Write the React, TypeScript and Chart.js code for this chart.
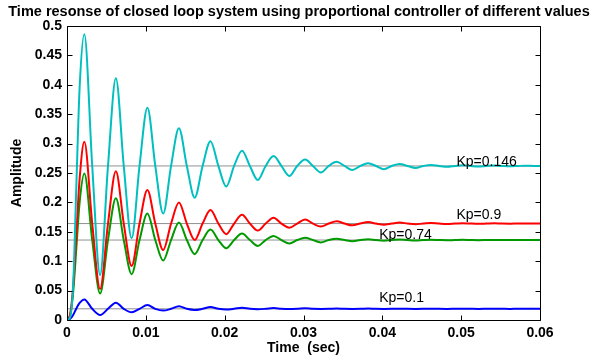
import React, { useEffect, useRef } from 'react';
import { Chart, registerables } from 'chart.js';

Chart.register(...registerables);

const TITLE = 'Time resonse of closed loop system using proportional controller of different values';
const X_TITLE = 'Time  (sec)';
const Y_TITLE = 'Amplitude';

const TIME = [
  0, 0.0004, 0.0008, 0.0012, 0.0016, 0.0022,
  0.0032, 0.0042, 0.0052, 0.0062, 0.0072, 0.0082, 0.0092, 0.0102, 0.0112, 0.0122,
  0.0132, 0.0142, 0.0152, 0.0162, 0.0172, 0.0182, 0.0192, 0.0202, 0.0212, 0.0222,
  0.0232, 0.0242, 0.0252, 0.0262, 0.0272, 0.0282, 0.0292, 0.0302, 0.0312, 0.0322,
  0.0332, 0.0342, 0.0352, 0.0362, 0.0372, 0.0382, 0.0392, 0.0402, 0.0412, 0.0422,
  0.0432, 0.0442, 0.0452, 0.0462, 0.0472, 0.0482, 0.0492, 0.0502, 0.0512, 0.0522,
  0.0532, 0.0542, 0.0552, 0.0562, 0.0572, 0.0582, 0.0592, 0.06,
];

const KP_0146 = [
  0, 0.005, 0.065, 0.235, 0.395, 0.486,
  0.262, 0.0765, 0.262, 0.411, 0.262, 0.139, 0.262, 0.361, 0.262, 0.181,
  0.262, 0.326, 0.262, 0.208, 0.262, 0.304, 0.262, 0.227, 0.262, 0.288,
  0.262, 0.238, 0.262, 0.279, 0.262, 0.245, 0.262, 0.273, 0.262, 0.251,
  0.262, 0.269, 0.262, 0.255, 0.262, 0.2665, 0.262, 0.2565, 0.262, 0.2652,
  0.262, 0.2585, 0.262, 0.2638, 0.262, 0.2605, 0.262, 0.2632, 0.262, 0.261,
  0.262, 0.2627, 0.262, 0.2614, 0.262, 0.2624, 0.262, 0.262,
];

const KP_09 = [
  0, 0.01, 0.06, 0.15, 0.24, 0.303,
  0.164, 0.0527, 0.164, 0.253, 0.164, 0.092, 0.164, 0.221, 0.164, 0.119,
  0.164, 0.2, 0.164, 0.136, 0.164, 0.187, 0.164, 0.146, 0.164, 0.179,
  0.164, 0.152, 0.164, 0.174, 0.164, 0.157, 0.164, 0.171, 0.164, 0.159,
  0.164, 0.168, 0.164, 0.161, 0.164, 0.1665, 0.164, 0.162, 0.164, 0.1657,
  0.164, 0.1628, 0.164, 0.165, 0.164, 0.1633, 0.164, 0.1647, 0.164, 0.1636,
  0.164, 0.1645, 0.164, 0.1638, 0.164, 0.1642, 0.164, 0.164,
];

const KP_074 = [
  0, 0.008, 0.05, 0.125, 0.2, 0.249,
  0.136, 0.045, 0.136, 0.207, 0.136, 0.078, 0.136, 0.181, 0.136, 0.101,
  0.136, 0.166, 0.136, 0.112, 0.136, 0.154, 0.136, 0.122, 0.136, 0.147,
  0.136, 0.126, 0.136, 0.143, 0.136, 0.13, 0.136, 0.14, 0.136, 0.132,
  0.136, 0.138, 0.136, 0.134, 0.136, 0.1375, 0.136, 0.1348, 0.136, 0.137,
  0.136, 0.1353, 0.136, 0.1365, 0.136, 0.1356, 0.136, 0.1363, 0.136, 0.1358,
  0.136, 0.1362, 0.136, 0.1359, 0.136, 0.1361, 0.136, 0.136,
];

const KP_01 = [
  0, 0.002, 0.009, 0.02, 0.029, 0.035,
  0.019, 0.0085, 0.019, 0.0295, 0.019, 0.013, 0.019, 0.0255, 0.019, 0.016,
  0.019, 0.0235, 0.019, 0.017, 0.019, 0.022, 0.019, 0.0178, 0.019, 0.021,
  0.019, 0.0183, 0.019, 0.0203, 0.019, 0.0186, 0.019, 0.0198, 0.019, 0.0188,
  0.019, 0.0195, 0.019, 0.0189, 0.019, 0.0194, 0.019, 0.0189, 0.019, 0.0193,
  0.019, 0.0189, 0.019, 0.0192, 0.019, 0.0189, 0.019, 0.0191, 0.019, 0.0189,
  0.019, 0.0191, 0.019, 0.0189, 0.019, 0.019, 0.019, 0.019,
];

const SERIES_NAMES = ['Kp=0.146', 'Kp=0.9', 'Kp=0.74', 'Kp=0.1'];
const SERIES_VALUES = [KP_0146, KP_09, KP_074, KP_01];
const SERIES_COLORS = ['#00bfbf', '#ff0000', '#009a00', '#0000ff'];
const STEADY = [0.262, 0.164, 0.136, 0.019];

const LABEL_T = [0.0494, 0.0494, 0.0396, 0.0396];
const LABEL_V = [0.269, 0.1786, 0.1446, 0.0374];

const X_MIN = 0, X_MAX = 0.06, X_STEP = 0.01;
const Y_MIN = 0, Y_MAX = 0.5, Y_STEP = 0.05;

const FONT = '"Liberation Sans", Arial, Helvetica, sans-serif';

const fmt = (v: number) => String(Number(v.toFixed(4)));

const matlabPlugin = {
  id: 'matlabDecor',
  afterDatasetsDraw(chart: any) {
    const { ctx, chartArea: a, scales } = chart;
    const xs = scales.x, ys = scales.y;
    ctx.save();
    ctx.font = `14px ${FONT}`;
    ctx.fillStyle = '#000';
    ctx.textAlign = 'left';
    ctx.textBaseline = 'middle';
    SERIES_NAMES.forEach((name, i) => {
      ctx.fillText(name, xs.getPixelForValue(LABEL_T[i]), ys.getPixelForValue(LABEL_V[i]));
    });
    ctx.strokeStyle = '#000';
    ctx.lineWidth = 1;
    const L = Math.round(a.left) + 0.5;
    const R = Math.round(a.right) + 0.5;
    const T = Math.round(a.top) + 0.5;
    const B = Math.round(a.bottom) + 0.5;
    ctx.beginPath();
    ctx.rect(L, T, R - L, B - T);
    ctx.stroke();
    const tl = 5;
    ctx.beginPath();
    xs.ticks.forEach((t: any) => {
      const px = Math.round(xs.getPixelForValue(t.value)) + 0.5;
      ctx.moveTo(px, B); ctx.lineTo(px, B - tl);
      ctx.moveTo(px, T); ctx.lineTo(px, T + tl);
    });
    ys.ticks.forEach((t: any) => {
      const py = Math.round(ys.getPixelForValue(t.value)) + 0.5;
      ctx.moveTo(L, py); ctx.lineTo(L + tl, py);
      ctx.moveTo(R, py); ctx.lineTo(R - tl, py);
    });
    ctx.stroke();
    ctx.restore();
  },
  afterDraw(chart: any) {
    const { ctx, chartArea: a } = chart;
    ctx.save();
    ctx.fillStyle = '#000';
    ctx.textAlign = 'center';
    ctx.textBaseline = 'middle';
    ctx.font = `bold 14.5px ${FONT}`;
    ctx.fillText(TITLE, 299, 12);
    ctx.font = `bold 14px ${FONT}`;
    ctx.fillText(X_TITLE, (a.left + a.right) / 2, 348);
    ctx.translate(17, (a.top + a.bottom) / 2);
    ctx.rotate(-Math.PI / 2);
    ctx.fillText(Y_TITLE, 0, 0);
    ctx.restore();
  },
};

export default function App() {
  const ref = useRef<HTMLCanvasElement>(null);
  useEffect(() => {
    if (!ref.current) return;
    const curveSets = SERIES_VALUES.map((vals, i) => ({
      label: SERIES_NAMES[i],
      data: TIME.map((t, k) => ({ x: t, y: vals[k] })),
      borderColor: SERIES_COLORS[i],
      borderWidth: 2,
      pointRadius: 0,
      fill: false,
      cubicInterpolationMode: 'monotone' as const,
    }));
    const refSets = STEADY.map((v) => ({
      label: 'ref',
      data: [{ x: X_MIN, y: v }, { x: X_MAX, y: v }],
      borderColor: '#909090',
      borderWidth: 1,
      pointRadius: 0,
      fill: false,
    }));
    const chart = new Chart(ref.current, {
      type: 'line',
      data: { datasets: [...curveSets, ...refSets] as any },
      options: {
        animation: false,
        responsive: false,
        maintainAspectRatio: false,
        devicePixelRatio: 1,
        layout: { padding: { left: 0, top: 26, right: 52, bottom: 0 } },
        plugins: { legend: { display: false }, tooltip: { enabled: false }, title: { display: false } },
        scales: {
          x: {
            type: 'linear',
            min: X_MIN,
            max: X_MAX,
            grid: { display: false, drawTicks: false },
            border: { display: false },
            ticks: {
              stepSize: X_STEP,
              padding: 5,
              color: '#000',
              maxRotation: 0,
              autoSkip: false,
              font: { family: FONT, size: 14, weight: 'bold' },
              callback: (v: any) => fmt(Number(v)),
            },
            afterFit: (s: any) => { s.height = 38; },
          },
          y: {
            type: 'linear',
            min: Y_MIN,
            max: Y_MAX,
            grid: { display: false, drawTicks: false },
            border: { display: false },
            ticks: {
              stepSize: Y_STEP,
              padding: 5,
              color: '#000',
              autoSkip: false,
              font: { family: FONT, size: 14, weight: 'bold' },
              callback: (v: any) => fmt(Number(v)),
            },
            afterFit: (s: any) => { s.width = 67; },
          },
        },
      },
      plugins: [matlabPlugin],
    });
    return () => chart.destroy();
  }, []);
  return (
    <div style={{ position: 'fixed', left: 0, top: 0, width: 592, height: 358, background: '#fff' }}>
      <canvas ref={ref} width={592} height={358} style={{ width: 592, height: 358, display: 'block' }} />
    </div>
  );
}
